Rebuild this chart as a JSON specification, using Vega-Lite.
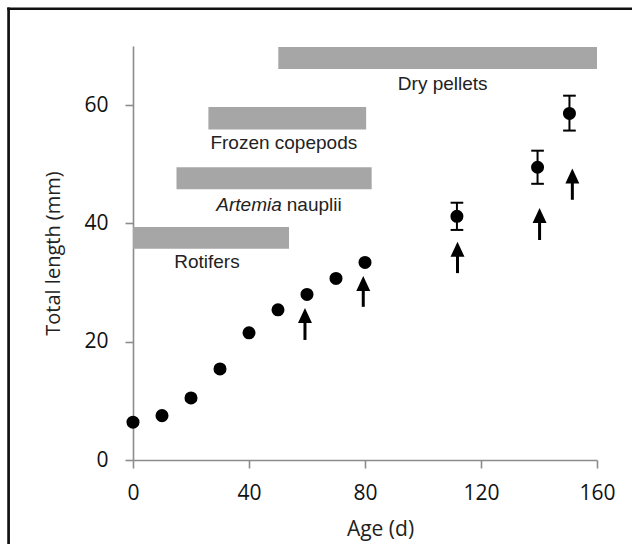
{
  "$schema": "https://vega.github.io/schema/vega-lite/v6.json",
  "width": 464,
  "height": 414,
  "autosize": {"type": "none"},
  "padding": {"left": 133, "top": 46, "right": 35, "bottom": 84},
  "background": "white",
  "config": {
    "view": {"stroke": null},
    "font": "Open Sans",
    "axis": {
      "grid": false,
      "domainColor": "#8c8c8c",
      "domainWidth": 1.6,
      "tickColor": "#8c8c8c",
      "tickWidth": 1.6,
      "tickSize": 8,
      "labelFont": "Open Sans",
      "labelFontSize": 21,
      "labelColor": "#111111",
      "titleFont": "Open Sans",
      "titleFontSize": 20,
      "titleFontWeight": "normal",
      "titleColor": "#222222"
    },
    "axisX": {"labelPadding": 14, "titlePadding": 15, "labelFlush": false, "titleFontSize": 21, "titleX": 247},
    "axisY": {"labelPadding": 17, "titlePadding": 20}
  },
  "datasets": {
    "growth": [
      {"age": 0, "length": 6.4},
      {"age": 10, "length": 7.5},
      {"age": 20, "length": 10.5},
      {"age": 30, "length": 15.4},
      {"age": 40, "length": 21.5},
      {"age": 50, "length": 25.4},
      {"age": 60, "length": 28.0},
      {"age": 70, "length": 30.7},
      {"age": 80, "length": 33.4},
      {"age": 111.7, "length": 41.2, "low": 38.9, "high": 43.5},
      {"age": 139.5, "length": 49.5, "low": 46.7, "high": 52.3},
      {"age": 150.5, "length": 58.6, "low": 55.7, "high": 61.6}
    ],
    "feeding": [
      {"food": "Rotifers", "start": 0, "end": 53.8, "low": 35.7, "high": 39.4},
      {"food": "Artemia nauplii", "start": 15, "end": 82.3, "low": 45.8, "high": 49.5},
      {"food": "Frozen copepods", "start": 26, "end": 80.4, "low": 55.9, "high": 59.7},
      {"food": "Dry pellets", "start": 50.1, "end": 160, "low": 66.1, "high": 69.85}
    ],
    "labels": [
      {"label": "Dry pellets", "x": 106.8, "y": 63.6},
      {"label": "Frozen copepods", "x": 52, "y": 53.6},
      {"label": "Rotifers", "x": 25.5, "y": 33.4}
    ],
    "italicLabel": [{"label": "Artemia", "x": 52, "y": 43.1}],
    "plainLabel": [{"label": "nauplii", "x": 52, "y": 43.1}],
    "arrows": [
      {"age": 59.3, "tail": 20.3, "tip": 25.7},
      {"age": 79.4, "tail": 25.9, "tip": 31.1},
      {"age": 111.9, "tail": 31.6, "tip": 36.9},
      {"age": 140.2, "tail": 37.2, "tip": 42.6},
      {"age": 151.5, "tail": 44.0, "tip": 49.3}
    ],
    "frame": [
      {"x": -42.9, "x2": -42.9, "y": -25, "y2": 76.3},
      {"x": -42.9, "x2": 190, "y": 76.3, "y2": 76.3}
    ]
  },
  "layer": [
    {
      "data": {"name": "frame"},
      "mark": {"type": "rule", "color": "#111111", "strokeWidth": 2.7, "strokeCap": "square", "clip": false},
      "encoding": {
        "x": {"field": "x", "type": "quantitative", "scale": {"domain": [0, 160], "nice": false, "zero": false}, "title": "Age (d)", "axis": {"values": [0, 40, 80, 120, 160]}},
        "x2": {"field": "x2"},
        "y": {"field": "y", "type": "quantitative", "scale": {"domain": [0, 70], "nice": false, "zero": false}, "title": "Total length (mm)", "axis": {"values": [0, 20, 40, 60]}},
        "y2": {"field": "y2"}
      }
    },
    {
      "data": {"name": "feeding"},
      "mark": {"type": "rect", "color": "#a6a6a6"},
      "encoding": {
        "x": {"field": "start", "type": "quantitative", "title": "Age (d)", "axis": {"values": [0, 40, 80, 120, 160]}},
        "x2": {"field": "end"},
        "y": {"field": "low", "type": "quantitative", "title": "Total length (mm)", "axis": {"values": [0, 20, 40, 60]}},
        "y2": {"field": "high"}
      }
    },
    {
      "data": {"name": "labels"},
      "mark": {"type": "text", "font": "Liberation Sans", "fontSize": 19, "color": "#222222", "align": "center", "baseline": "middle"},
      "encoding": {
        "x": {"field": "x", "type": "quantitative", "title": "Age (d)", "axis": {"values": [0, 40, 80, 120, 160]}},
        "y": {"field": "y", "type": "quantitative", "title": "Total length (mm)", "axis": {"values": [0, 20, 40, 60]}},
        "text": {"field": "label"}
      }
    },
    {
      "data": {"name": "italicLabel"},
      "mark": {"type": "text", "font": "Liberation Sans", "fontSize": 19, "fontStyle": "italic", "color": "#222222", "align": "right", "baseline": "middle", "dx": -2},
      "encoding": {
        "x": {"field": "x", "type": "quantitative", "title": "Age (d)", "axis": {"values": [0, 40, 80, 120, 160]}},
        "y": {"field": "y", "type": "quantitative", "title": "Total length (mm)", "axis": {"values": [0, 20, 40, 60]}},
        "text": {"field": "label"}
      }
    },
    {
      "data": {"name": "plainLabel"},
      "mark": {"type": "text", "font": "Liberation Sans", "fontSize": 19, "color": "#222222", "align": "left", "baseline": "middle", "dx": 3},
      "encoding": {
        "x": {"field": "x", "type": "quantitative", "title": "Age (d)", "axis": {"values": [0, 40, 80, 120, 160]}},
        "y": {"field": "y", "type": "quantitative", "title": "Total length (mm)", "axis": {"values": [0, 20, 40, 60]}},
        "text": {"field": "label"}
      }
    },
    {
      "data": {"name": "growth"},
      "transform": [{"filter": "isValid(datum.low)"}],
      "mark": {"type": "rule", "color": "black", "strokeWidth": 2},
      "encoding": {
        "x": {"field": "age", "type": "quantitative", "title": "Age (d)", "axis": {"values": [0, 40, 80, 120, 160]}},
        "y": {"field": "low", "type": "quantitative", "title": "Total length (mm)", "axis": {"values": [0, 20, 40, 60]}},
        "y2": {"field": "high"}
      }
    },
    {
      "data": {"name": "growth"},
      "transform": [{"filter": "isValid(datum.low)"}],
      "mark": {"type": "point", "shape": "stroke", "size": 160, "color": "black", "strokeWidth": 2, "opacity": 1},
      "encoding": {
        "x": {"field": "age", "type": "quantitative", "title": "Age (d)", "axis": {"values": [0, 40, 80, 120, 160]}},
        "y": {"field": "low", "type": "quantitative", "title": "Total length (mm)", "axis": {"values": [0, 20, 40, 60]}}
      }
    },
    {
      "data": {"name": "growth"},
      "transform": [{"filter": "isValid(datum.high)"}],
      "mark": {"type": "point", "shape": "stroke", "size": 160, "color": "black", "strokeWidth": 2, "opacity": 1},
      "encoding": {
        "x": {"field": "age", "type": "quantitative", "title": "Age (d)", "axis": {"values": [0, 40, 80, 120, 160]}},
        "y": {"field": "high", "type": "quantitative", "title": "Total length (mm)", "axis": {"values": [0, 20, 40, 60]}}
      }
    },
    {
      "data": {"name": "growth"},
      "mark": {"type": "point", "filled": true, "color": "black", "size": 170, "opacity": 1},
      "encoding": {
        "x": {"field": "age", "type": "quantitative", "title": "Age (d)", "axis": {"values": [0, 40, 80, 120, 160]}},
        "y": {"field": "length", "type": "quantitative", "title": "Total length (mm)", "axis": {"values": [0, 20, 40, 60]}}
      }
    },
    {
      "data": {"name": "arrows"},
      "mark": {"type": "rule", "color": "black", "strokeWidth": 3, "y2Offset": 8},
      "encoding": {
        "x": {"field": "age", "type": "quantitative", "title": "Age (d)", "axis": {"values": [0, 40, 80, 120, 160]}},
        "y": {"field": "tail", "type": "quantitative", "title": "Total length (mm)", "axis": {"values": [0, 20, 40, 60]}},
        "y2": {"field": "tip"}
      }
    },
    {
      "data": {"name": "arrows"},
      "mark": {"type": "point", "shape": "M0,0L0.93,2L-0.93,2Z", "size": 225, "filled": true, "color": "black", "opacity": 1, "strokeWidth": 0},
      "encoding": {
        "x": {"field": "age", "type": "quantitative", "title": "Age (d)", "axis": {"values": [0, 40, 80, 120, 160]}},
        "y": {"field": "tip", "type": "quantitative", "title": "Total length (mm)", "axis": {"values": [0, 20, 40, 60]}}
      }
    }
  ]
}
